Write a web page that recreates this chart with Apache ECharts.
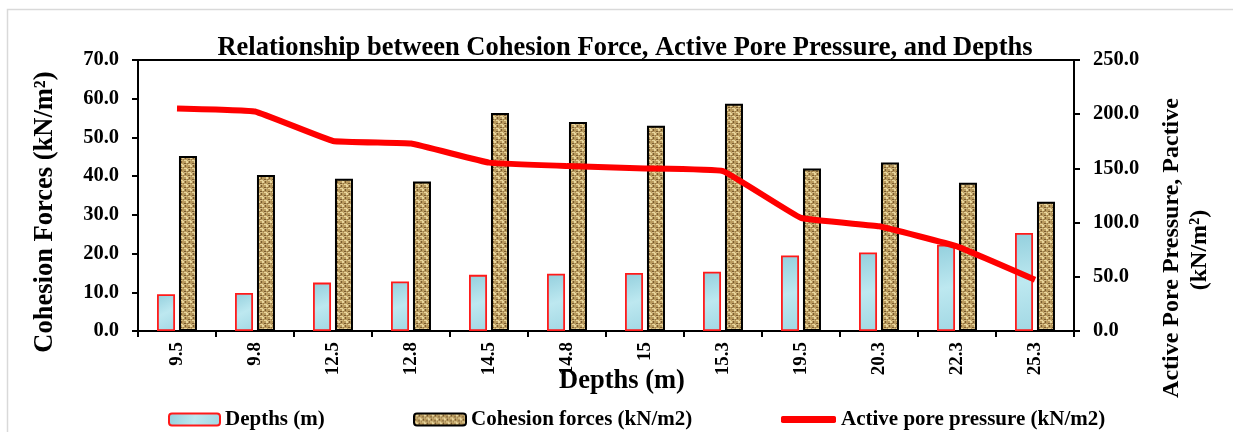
<!DOCTYPE html>
<html>
<head>
<meta charset="utf-8">
<script src="https://cdn.jsdelivr.net/npm/echarts@6/dist/echarts.min.js"></script>
<style>
  html, body { margin: 0; padding: 0; background: #ffffff; }
  #chart { width: 1233px; height: 432px; }
</style>
</head>
<body>
<div id="chart"></div>
<script>
// Depth categories (m)
const depthLabels = ['9.5', '9.8', '12.5', '12.8', '14.5', '14.8', '15', '15.3', '19.5', '20.3', '22.3', '25.3'];
// Depth bars (m)
const depthValues = [9.5, 9.8, 12.5, 12.8, 14.5, 14.8, 15.0, 15.3, 19.5, 20.3, 22.3, 25.3];
// Cohesion forces (kN/m2)
const cohesionValues = [45.2, 40.3, 39.3, 38.6, 56.3, 54.0, 53.0, 58.7, 42.0, 43.5, 38.3, 33.4];
// Active pore pressure (kN/m2)
const pressureValues = [205.3, 202.5, 175.3, 172.9, 155.3, 152.1, 150.0, 147.5, 104.3, 96.6, 78.0, 47.2];
// Axis ticks
const leftTicks = { min: 0, max: 70, step: 10 };
const rightTicks = { min: 0, max: 250, step: 50 };

const serif = '"Liberation Serif", "Times New Roman", serif';

// Woven burlap-like texture for the cohesion bars
function makeWeave() {
  const c = document.createElement('canvas');
  c.width = 8; c.height = 8;
  const g = c.getContext('2d');
  g.fillStyle = '#b99a5e'; g.fillRect(0, 0, 8, 8);
  g.fillStyle = '#e8d59c';
  g.fillRect(0, 0, 3, 1); g.fillRect(4, 4, 3, 1);
  g.fillRect(2, 1, 2, 2); g.fillRect(6, 5, 2, 2);
  g.fillStyle = '#d2b87f';
  g.fillRect(4, 0, 3, 1); g.fillRect(0, 4, 3, 1);
  g.fillStyle = '#7a5d30';
  g.fillRect(0, 3, 2, 1); g.fillRect(4, 7, 2, 1);
  g.fillRect(5, 1, 1, 2); g.fillRect(1, 5, 1, 2);
  g.fillStyle = '#987a45';
  g.fillRect(3, 3, 2, 1); g.fillRect(7, 7, 1, 1);
  return c;
}
const weave = { image: makeWeave(), repeat: 'repeat' };
const iceFill = new echarts.graphic.LinearGradient(0, 0, 1, 1, [
  { offset: 0, color: '#93cfdd' },
  { offset: 0.5, color: '#bde8f0' },
  { offset: 1, color: '#a2d8e4' }
]);

const chart = echarts.init(document.getElementById('chart'), null, { renderer: 'canvas' });

const legendText = { fontFamily: serif, fontWeight: 'bold', fontSize: 21, color: '#000' };

chart.setOption({
  animation: false,
  backgroundColor: '#ffffff',
  title: {
    text: 'Relationship between Cohesion Force, Active Pore Pressure, and Depths',
    left: 620, top: 30, textAlign: 'center',
    textStyle: { fontFamily: serif, fontWeight: 'bold', fontSize: 26.5, color: '#000' }
  },
  grid: {
    left: 138, right: 159, top: 60, bottom: 101,
    show: true, borderColor: '#000', borderWidth: 2, backgroundColor: 'transparent'
  },
  legend: [
    { data: ['Depths (m)'], left: 163, top: 404, itemWidth: 51, itemHeight: 12, textStyle: legendText },
    { data: ['Cohesion forces (kN/m2)'], left: 408, top: 404, itemWidth: 52, itemHeight: 12, textStyle: legendText },
    { data: [{ name: 'Active pore pressure (kN/m2)', icon: 'roundRect' }], left: 776, top: 404,
      itemWidth: 55, itemHeight: 7, textStyle: legendText }
  ],
  xAxis: {
    type: 'category',
    data: depthLabels,
    boundaryGap: true,
    axisLine: { lineStyle: { color: '#000', width: 2 } },
    axisTick: { show: true, interval: 0, length: 6, lineStyle: { color: '#000', width: 2 } },
    axisLabel: {
      interval: 0, rotate: 90, margin: 11,
      fontFamily: serif, fontWeight: 'bold', fontSize: 19, color: '#000'
    }
  },
  yAxis: [
    {
      type: 'value', min: leftTicks.min, max: leftTicks.max, interval: leftTicks.step,
      axisLine: { show: true, lineStyle: { color: '#000', width: 2 } },
      axisTick: { show: true, length: 6, lineStyle: { color: '#000', width: 2 } },
      splitLine: { show: false },
      axisLabel: {
        margin: 19, formatter: v => v.toFixed(1),
        fontFamily: serif, fontWeight: 'bold', fontSize: 20.5, color: '#000'
      }
    },
    {
      type: 'value', min: rightTicks.min, max: rightTicks.max, interval: rightTicks.step,
      position: 'right',
      axisLine: { show: true, lineStyle: { color: '#000', width: 2 } },
      axisTick: { show: true, length: 6, lineStyle: { color: '#000', width: 2 } },
      splitLine: { show: false },
      axisLabel: {
        margin: 19, formatter: v => v.toFixed(1),
        fontFamily: serif, fontWeight: 'bold', fontSize: 20.5, color: '#000'
      }
    }
  ],
  series: [
    {
      name: 'Depths (m)', type: 'bar', yAxisIndex: 0,
      data: depthValues, barWidth: 18, barGap: '22%',
      itemStyle: { color: iceFill, borderColor: '#ff1a1a', borderWidth: 1.8 }
    },
    {
      name: 'Cohesion forces (kN/m2)', type: 'bar', yAxisIndex: 0,
      data: cohesionValues, barWidth: 18,
      itemStyle: { color: weave, borderColor: '#000', borderWidth: 2 }
    },
    {
      name: 'Active pore pressure (kN/m2)', type: 'line', yAxisIndex: 1,
      data: pressureValues, smooth: 0.08, symbol: 'none', z: 5,
      lineStyle: { color: '#ff0000', width: 6 },
      itemStyle: { color: '#ff0000' }
    }
  ],
  graphic: [
    {
      type: 'rect', silent: true, z: -1,
      shape: { x: 7.5, y: 9.5, width: 1240, height: 440 },
      style: { fill: 'none', stroke: '#d9d9d9', lineWidth: 1.5 }
    },
    {
      type: 'text', x: 45, y: 212, rotation: Math.PI / 2,
      style: {
        text: 'Cohesion Forces (kN/m²)', align: 'center', verticalAlign: 'middle',
        font: 'bold 26.5px ' + serif, fill: '#000'
      }
    },
    {
      type: 'text', x: 1172, y: 248, rotation: Math.PI / 2,
      style: {
        text: 'Active Pore Pressure, Pactive', align: 'center', verticalAlign: 'middle',
        font: 'bold 24px ' + serif, fill: '#000'
      }
    },
    {
      type: 'text', x: 1200, y: 250, rotation: Math.PI / 2,
      style: {
        text: '(kN/m²)', align: 'center', verticalAlign: 'middle',
        font: 'bold 24px ' + serif, fill: '#000'
      }
    },
    {
      type: 'text', x: 622, y: 381,
      style: {
        text: 'Depths (m)', align: 'center', verticalAlign: 'middle',
        font: 'bold 26.5px ' + serif, fill: '#000'
      }
    }
  ]
});
</script>
</body>
</html>
